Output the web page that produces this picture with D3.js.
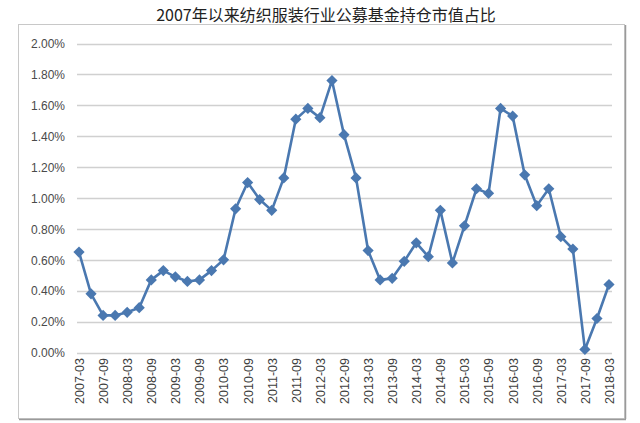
<!DOCTYPE html>
<html><head><meta charset="utf-8">
<script src="https://cdn.jsdelivr.net/npm/d3@7"></script>
<style>
html,body{margin:0;padding:0;background:#fff;}
svg text{font-family:"Liberation Sans","DejaVu Sans",sans-serif;}
</style></head>
<body>
<svg id="c" width="640" height="423"></svg>
<script>
const title = "2007年以来纺织服装行业公募基金持仓市值占比";
const years = d3.range(2007, 2019);
const quarters = ["03","06","09","12"];
const categories = [];
years.forEach(y => quarters.forEach(q => { if (!(y === 2018 && q !== "03")) categories.push(y + "-" + q); }));
const values = [0.65,0.38,0.24,0.24,0.26,0.29,0.47,0.53,0.49,0.46,0.47,0.53,
  0.60,0.93,1.10,0.99,0.92,1.13,1.51,1.58,1.52,1.76,1.41,1.13,
  0.66,0.47,0.48,0.59,0.71,0.62,0.92,0.58,0.82,1.06,1.03,1.58,
  1.53,1.15,0.95,1.06,0.75,0.67,0.02,0.22,0.44];
const yTicks = d3.range(0, 2.01, 0.2);
const xTickLabels = categories.filter((c,i) => i % 2 === 0);

const svg = d3.select("#c");
// outer border
svg.append("rect").attr("x",18.5).attr("y",24.5).attr("width",606).attr("height",394)
  .attr("fill","#fff").attr("stroke","#c8c8c8").attr("stroke-width",1);
svg.append("line").attr("x1",625.5).attr("x2",625.5).attr("y1",25).attr("y2",419).attr("stroke","#9a9a9a").attr("stroke-width",1.5);
svg.append("line").attr("x1",19).attr("x2",626).attr("y1",419.5).attr("y2",419.5).attr("stroke","#9a9a9a").attr("stroke-width",1.5);

svg.append("text").attr("x",326).attr("y",21).attr("text-anchor","middle")
  .attr("font-size",16).attr("fill","#222")
  .style("font-family","'Noto Sans CJK SC','Liberation Sans',sans-serif")
  .text(title);

const x = d3.scalePoint().domain(categories).range([79, 609]);
const y = d3.scaleLinear().domain([0, 2]).range([352.5, 43.5]);

// gridlines
svg.append("g").selectAll("line").data(yTicks).join("line")
  .attr("x1",77).attr("x2",612)
  .attr("y1",d=>Math.round(y(d))+0.5).attr("y2",d=>Math.round(y(d))+0.5)
  .attr("stroke","#d0d0d0").attr("stroke-width",1.3);

// y axis labels
const yAxis = d3.axisLeft(y).tickValues(yTicks).tickSize(0).tickPadding(0)
  .tickFormat(d => d.toFixed(2) + "%");
const gy = svg.append("g").attr("transform","translate(65,0)").call(yAxis);
gy.select(".domain").remove();
gy.selectAll("text").attr("font-size",12).attr("fill","#4a4a4a")
  .style("font-family","'Liberation Sans',sans-serif").attr("dy","0.35em");

// x axis labels
const xAxis = d3.axisBottom(x).tickValues(xTickLabels).tickSize(0).tickPadding(0);
const gx = svg.append("g").attr("transform","translate(0,358)").call(xAxis);
gx.select(".domain").remove();
gx.selectAll("text").attr("font-size",12.5).attr("fill","#404040")
  .style("font-family","'Liberation Sans Narrow','Liberation Sans',sans-serif")
  .attr("text-anchor","end").attr("transform","rotate(-90)")
  .attr("x",0).attr("y",0).attr("dy","0.35em");

// line
const line = d3.line().x((d,i)=>x(categories[i])).y(d=>y(d));
svg.append("path").datum(values).attr("d",line).attr("fill","none")
  .attr("stroke","#4a78b0").attr("stroke-width",2.6).attr("stroke-linejoin","round");

// markers (diamonds)
const sym = d3.symbol().type(d3.symbolDiamond2).size(80);
svg.append("g").selectAll("path").data(values).join("path")
  .attr("d",sym)
  .attr("transform",(d,i)=>`translate(${x(categories[i])},${y(d)})`)
  .attr("fill","#4a78b0");
</script>
</body></html>
